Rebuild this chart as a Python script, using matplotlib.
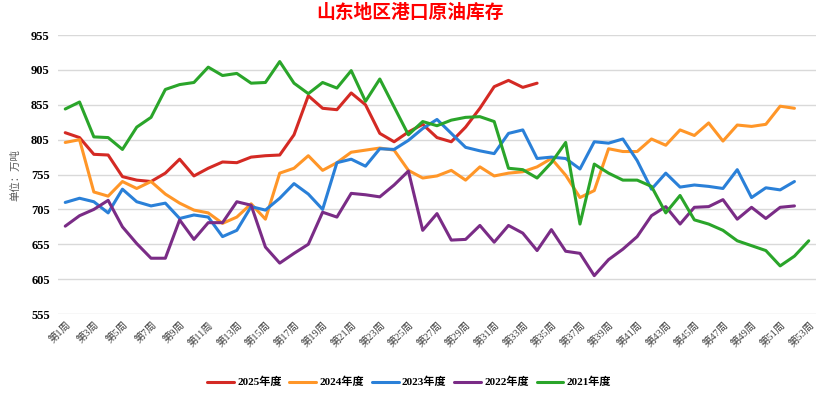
import matplotlib.pyplot as plt
import numpy as np

plt.rcParams['font.family'] = ['Liberation Serif', 'Noto Sans CJK SC']

weeks = list(range(1, 54))
week_labels = ['第%d周' % w for w in weeks]

y2025 = [815, 808, 784, 783, 752, 747, 745, 757, 777, 753, 764, 773, 772, 780,
         782, 783, 812, 868, 850, 848, 872, 855, 814, 802, 816, 827, 808, 802,
         823, 850, 881, 890, 880, 886]
y2024 = [801, 805, 730, 724, 745, 735, 745, 727, 714, 704, 700, 685, 694, 713,
         691, 757, 764, 782, 761, 772, 787, 790, 793, 790, 761, 750, 753, 761,
         747, 766, 753, 757, 759, 766, 778, 754, 722, 732, 792, 788, 788, 806,
         797, 819, 811, 829, 803, 826, 824, 827, 853, 850]
y2023 = [715, 721, 716, 700, 734, 716, 710, 714, 692, 697, 694, 666, 675, 709,
         704, 721, 742, 727, 705, 772, 777, 767, 792, 791, 804, 821, 834, 814,
         794, 789, 785, 814, 819, 778, 780, 778, 763, 802, 800, 806, 775, 734,
         757, 737, 740, 738, 735, 762, 722, 736, 733, 745]
y2022 = [681, 696, 705, 718, 680, 656, 635, 635, 690, 662, 686, 686, 716, 711,
         651, 628, 642, 655, 701, 694, 728, 726, 723, 740, 760, 675, 699, 661,
         662, 682, 658, 682, 671, 646, 676, 645, 642, 610, 633, 648, 666, 696,
         709, 684, 708, 709, 719, 691, 708, 692, 708, 710]
y2021 = [849, 859, 809, 808, 791, 823, 837, 877, 884, 887, 909, 897, 900, 886,
         887, 917, 886, 871, 887, 879, 904, 860, 892, 852, 812, 831, 825, 833,
         837, 838, 831, 764, 762, 750, 772, 801, 684, 770, 757, 747, 747, 738,
         700, 725, 690, 684, 675, 660, 653, 646, 624, 638, 660]

series = [
    ('2025年度', y2025, '#D42A24'),
    ('2024年度', y2024, '#FF9628'),
    ('2023年度', y2023, '#2A80D8'),
    ('2022年度', y2022, '#7A2C86'),
    ('2021年度', y2021, '#2AA52A'),
]
yticks = [555, 605, 655, 705, 755, 805, 855, 905, 955]

fig = plt.figure(figsize=(8.3, 3.94), dpi=100)
ax = fig.add_axes([0.07, 0.203, 0.913, 0.708])

for name, vals, color in series:
    ax.plot(weeks[:len(vals)], vals, color=color, lw=2.2, label=name,
            solid_joinstyle='round', solid_capstyle='round')

ax.set_xlim(0.5, 53.5)
ax.set_ylim(555, 955)
ax.set_yticks(yticks)
ax.set_yticklabels([str(v) for v in yticks], fontsize=9, fontweight='bold')
ax.set_xticks(weeks[::2])
ax.set_xticklabels(week_labels[::2], rotation=45, ha='right', va='top',
                   rotation_mode='anchor', fontsize=7.5, color='#404040')
ax.tick_params(axis='both', length=0, pad=6)
ax.tick_params(axis='x', pad=4)
ax.grid(axis='y', color='#D9D9D9', lw=1)
ax.set_axisbelow(True)
for s in ax.spines.values():
    s.set_visible(False)

fig.text(0.018, 0.555, '单位：万吨', rotation=90, ha='center', va='center',
         fontsize=7.5, color='#595959', family=['Noto Sans CJK SC'])
fig.text(0.494, 0.968, '山东地区港口原油库存', ha='center', va='center',
         fontsize=13.5, color='#FF0000', fontweight='bold',
         family=['Noto Sans CJK SC'])

ax.legend(loc='center', bbox_to_anchor=(0.493, 0.03), bbox_transform=fig.transFigure,
          ncol=5, frameon=False, handlelength=2.4, columnspacing=0.7,
          handletextpad=0.3, prop={'weight': 'bold', 'size': 8})

fig.savefig('out.png', dpi=100)
